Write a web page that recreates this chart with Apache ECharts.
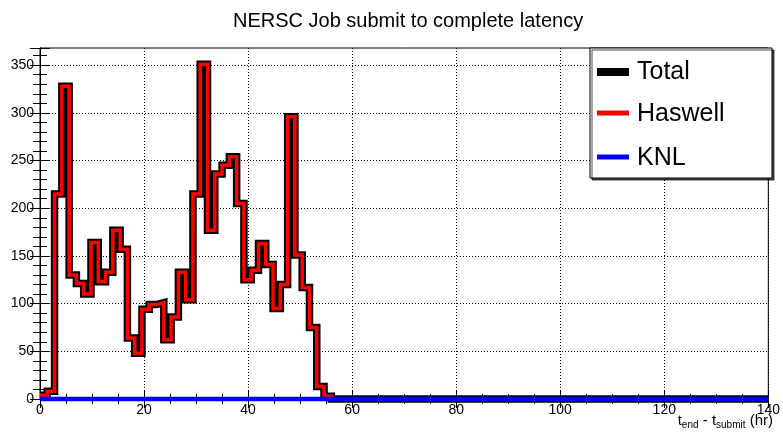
<!DOCTYPE html>
<html>
<head>
<meta charset="utf-8">
<title>NERSC Job submit to complete latency</title>
<script src="https://cdn.jsdelivr.net/npm/echarts@6/dist/echarts.min.js"></script>
<style>
  html, body { margin: 0; padding: 0; background: #fff; }
  #chart { width: 783px; height: 433px; }
</style>
</head>
<body>
<div id="chart"></div>
<script>
// histogram: 100 bins of 1.4 hr over 0..140, only the first 40 bins are filled
var binWidth = 1.4;
var xMax = 140;

var haswellCounts = [4, 8, 215, 328, 130, 121, 110, 164, 123, 133,
  177, 157, 64, 48, 94, 99, 101, 62, 86, 133,
  104, 215, 351, 177, 236, 245, 254, 205, 125, 135,
  163, 141, 95, 120, 296, 151, 117, 75, 13, 3];

var totalCounts = [4, 8, 215, 328, 130, 121, 110, 164, 123, 133,
  177, 157, 64, 48, 94, 99, 101, 62, 86, 133,
  104, 215, 351, 177, 236, 245, 254, 205, 125, 135,
  163, 141, 95, 120, 296, 151, 117, 75, 13, 3];

var knlCounts = [0, 0, 0, 0, 0, 0, 0, 0, 0, 0,
  0, 0, 0, 0, 0, 0, 0, 0, 0, 0,
  0, 0, 0, 0, 0, 0, 0, 0, 0, 0,
  0, 0, 0, 0, 0, 0, 0, 0, 0, 0];

var xTicks = [0, 20, 40, 60, 80, 100, 120, 140];
var yTicks = [0, 50, 100, 150, 200, 250, 300, 350];

var font = "'Liberation Sans', Arial, Helvetica, sans-serif";

// bin lower edges -> step points, closed with an empty tail up to xMax
function stepData(counts) {
  var pts = counts.map(function (v, i) {
    return [+(i * binWidth).toFixed(2), v];
  });
  pts.push([+(counts.length * binWidth).toFixed(2), 0]);
  pts.push([xMax, 0]);
  return pts;
}

var chart = echarts.init(document.getElementById('chart'), null, { renderer: 'canvas' });

var tickCommon = {
  axisLine: { show: true, lineStyle: { color: '#000', width: 1 } },
  axisLabel: { show: false },
  splitLine: { show: false }
};

var option = {
  animation: false,
  backgroundColor: '#fff',
  title: {
    text: 'NERSC Job submit to complete latency',
    left: 228,
    top: 6,
    textStyle: { fontFamily: font, fontSize: 20, fontWeight: 'normal', color: '#000' }
  },
  grid: {
    left: 40,
    right: 10,
    top: 48,
    bottom: 34,
    show: true,
    borderColor: '#000',
    borderWidth: 1,
    backgroundColor: 'transparent'
  },
  xAxis: [{
    type: 'value',
    min: 0,
    max: xMax,
    interval: 20,
    axisLine: { show: true, onZero: false, lineStyle: { color: '#000', width: 1 } },
    axisTick: { show: true, inside: true, length: 9, lineStyle: { color: '#000' } },
    minorTick: { show: true, splitNumber: 4, length: 5, lineStyle: { color: '#000' } },
    axisLabel: {
      color: '#000', fontFamily: font, fontSize: 14, margin: 4,
      formatter: function (v) { return xTicks.indexOf(v) >= 0 ? String(v) : ''; }
    },
    splitLine: { show: true, lineStyle: { color: '#000', width: 1, type: [1, 2] } }
  }, Object.assign({
    type: 'value',
    position: 'top',
    min: 0,
    max: xMax,
    interval: 20,
    axisTick: { show: true, inside: true, length: 9, lineStyle: { color: '#000' } },
    minorTick: { show: true, splitNumber: 4, length: 5, lineStyle: { color: '#000' } }
  }, tickCommon)],
  yAxis: [{
    type: 'value',
    min: 0,
    max: 368,
    interval: 50,
    axisLine: { show: true, onZero: false, lineStyle: { color: '#000', width: 1 } },
    axisTick: { show: true, inside: true, length: 10, lineStyle: { color: '#000' } },
    minorTick: { show: true, splitNumber: 5, length: 7, lineStyle: { color: '#000' } },
    axisLabel: {
      color: '#000', fontFamily: font, fontSize: 14, margin: 6, showMaxLabel: false,
      formatter: function (v) { return yTicks.indexOf(v) >= 0 ? String(v) : ''; }
    },
    splitLine: { show: true, showMaxLine: false, lineStyle: { color: '#000', width: 1, type: [1, 2] } }
  }, Object.assign({
    type: 'value',
    position: 'right',
    min: 0,
    max: 368,
    interval: 50,
    axisTick: { show: true, inside: true, length: 10, lineStyle: { color: '#000' } },
    minorTick: { show: true, splitNumber: 5, length: 7, lineStyle: { color: '#000' } }
  }, tickCommon)],
  series: [{
    name: 'Total',
    type: 'line',
    step: 'end',
    clip: false,
    symbol: 'none',
    data: stepData(totalCounts),
    lineStyle: { color: '#000', width: 7.5, join: 'miter' },
    itemStyle: { color: '#000' },
    z: 3
  }, {
    name: 'Haswell',
    type: 'line',
    step: 'end',
    clip: false,
    symbol: 'none',
    data: stepData(haswellCounts),
    lineStyle: { color: '#ff0000', width: 3.5, join: 'miter' },
    itemStyle: { color: '#ff0000' },
    z: 4
  }, {
    name: 'KNL',
    type: 'line',
    step: 'end',
    clip: false,
    symbol: 'none',
    data: stepData(knlCounts),
    lineStyle: { color: '#0000ff', width: 4.5 },
    itemStyle: { color: '#0000ff' },
    z: 5
  }],
  graphic: [
    // legend box
    {
      type: 'rect',
      shape: { x: 590, y: 48, width: 182, height: 130 },
      style: { fill: '#fff', stroke: '#000', lineWidth: 1,
        shadowColor: 'rgba(0,0,0,0.7)', shadowOffsetX: 2, shadowOffsetY: 2, shadowBlur: 0 },
      z: 20
    },
    { type: 'line', shape: { x1: 597, y1: 72, x2: 629, y2: 72 }, style: { stroke: '#000', lineWidth: 8 }, z: 21 },
    { type: 'text', x: 637, y: 72, style: { text: 'Total', fontFamily: font, fontSize: 25, fill: '#000', verticalAlign: 'middle' }, z: 21 },
    { type: 'line', shape: { x1: 597, y1: 113, x2: 629, y2: 113 }, style: { stroke: '#ff0000', lineWidth: 5 }, z: 21 },
    { type: 'text', x: 637, y: 114, style: { text: 'Haswell', fontFamily: font, fontSize: 25, fill: '#000', verticalAlign: 'middle' }, z: 21 },
    { type: 'line', shape: { x1: 597, y1: 157, x2: 629, y2: 157 }, style: { stroke: '#0000ff', lineWidth: 5 }, z: 21 },
    { type: 'text', x: 637, y: 158, style: { text: 'KNL', fontFamily: font, fontSize: 25, fill: '#000', verticalAlign: 'middle' }, z: 21 },
    // x axis title with subscripts
    {
      type: 'text',
      right: 10,
      top: 413,
      style: {
        text: '{a|t}{s|end}{a| - t}{s|submit}{a| (hr)}',
        fontFamily: font,
        fill: '#000',
        rich: {
          a: { fontFamily: font, fontSize: 15, lineHeight: 19, verticalAlign: 'middle', fill: '#000' },
          s: { fontFamily: font, fontSize: 10, lineHeight: 10, verticalAlign: 'bottom', fill: '#000' }
        }
      },
      z: 21
    }
  ]
};

chart.setOption(option);
</script>
</body>
</html>
